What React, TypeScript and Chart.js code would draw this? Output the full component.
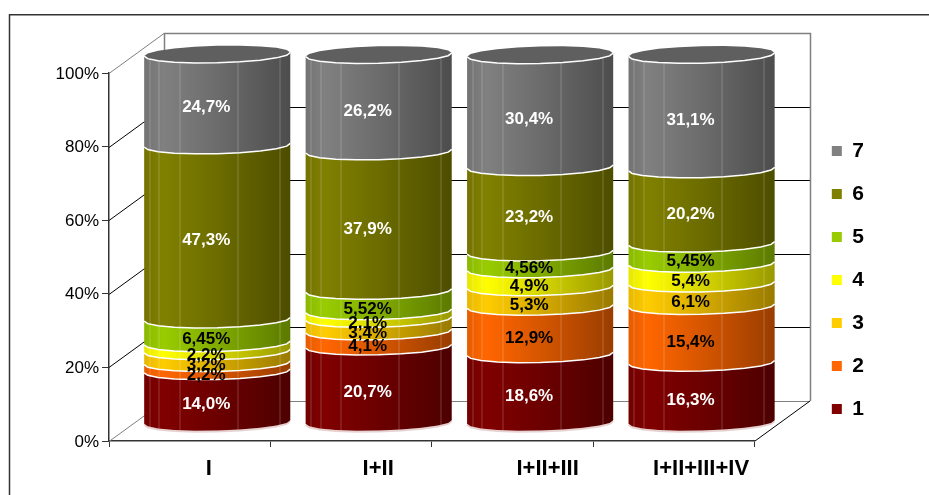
import React, { useEffect, useRef } from "react";
import { Chart, registerables } from "chart.js";

Chart.register(...registerables);

const categories = ["I", "I+II", "I+II+III", "I+II+III+IV"];
const series1 = [14.0, 20.7, 18.6, 16.3];
const series2 = [2.2, 4.1, 12.9, 15.4];
const series3 = [3.2, 3.4, 5.3, 6.1];
const series4 = [2.2, 2.1, 4.9, 5.4];
const series5 = [6.45, 5.52, 4.56, 5.45];
const series6 = [47.3, 37.9, 23.2, 20.2];
const series7 = [24.7, 26.2, 30.4, 31.1];
const labels1 = ["14,0%", "20,7%", "18,6%", "16,3%"];
const labels2 = ["2,2%", "4,1%", "12,9%", "15,4%"];
const labels3 = ["3,2%", "3,4%", "5,3%", "6,1%"];
const labels4 = ["2,2%", "2,1%", "4,9%", "5,4%"];
const labels5 = ["6,45%", "5,52%", "4,56%", "5,45%"];
const labels6 = ["47,3%", "37,9%", "23,2%", "20,2%"];
const labels7 = ["24,7%", "26,2%", "30,4%", "31,1%"];
const colors = ["#800000", "#FF6600", "#FFCC00", "#FFFF00", "#99CC00", "#808000", "#808080"];
const labelColors = ["#fff", "#000", "#000", "#000", "#000", "#fff", "#fff"];

const FONT = '"Liberation Sans", Arial, sans-serif';
const DX = 27.5; // depth of the 3D box, half way for the cylinders
const DY = -18.5;
const WALL_X = 55;
const WALL_Y = -40;
const RY = 8.5;
const TILT = 1.8;
const FACETS = [0.034, 0.1, 0.24, 0.637, 0.925];
const LABEL_SHIFT = [-8, 0, 8, 0];

function shade(hex: string, f: number) {
  const n = parseInt(hex.slice(1), 16);
  const c = [(n >> 16) & 255, (n >> 8) & 255, n & 255].map((v) => Math.round(v * f));
  return `rgb(${c[0]},${c[1]},${c[2]})`;
}

// Faceted half ellipse, left to right; side = 1 front, -1 back.
function arcPoints(cx: number, cy: number, rx: number, side: number) {
  const pts: [number, number][] = [];
  const steps = 10;
  for (let i = 0; i <= steps; i++) {
    const a = Math.PI - (Math.PI * i) / steps;
    const x = cx + rx * Math.cos(a);
    const y = cy + side * RY * Math.sin(a) - Math.cos(a) * TILT;
    pts.push([x, y]);
  }
  return pts;
}

const cylinderPlugin = {
  id: "cylinder",
  beforeDraw(chart: any) {
    const { ctx, width, height } = chart;
    ctx.save();
    ctx.fillStyle = "#fff";
    ctx.fillRect(0, 0, width, height);
    ctx.strokeStyle = "#333";
    ctx.lineWidth = 1.5;
    ctx.beginPath();
    ctx.moveTo(9.5, height);
    ctx.lineTo(9.5, 14.75);
    ctx.lineTo(width, 14.75);
    ctx.stroke();
    ctx.restore();
  },
  beforeDatasetsDraw(chart: any) {
    const { ctx, scales } = chart;
    const y = scales.y;
    const x = scales.x;
    const left = Math.round(x.left);
    const right = Math.round(x.right);
    ctx.save();
    for (const v of [0, 20, 40, 60, 80, 100]) {
      const py = Math.round(y.getPixelForValue(v)) + 0.5;
      ctx.strokeStyle = v === 100 || v === 0 ? "#808080" : "#000";
      ctx.lineWidth = 1;
      ctx.beginPath();
      ctx.moveTo(left, py);
      ctx.lineTo(left + WALL_X, py + WALL_Y);
      if (v !== 100) ctx.lineTo(right + WALL_X, py + WALL_Y);
      ctx.stroke();
    }
    const top = Math.round(y.getPixelForValue(100)) + WALL_Y;
    const bottom = Math.round(y.getPixelForValue(0)) + WALL_Y;
    ctx.strokeStyle = "#808080";
    ctx.lineWidth = 1.5;
    ctx.beginPath();
    ctx.moveTo(left + WALL_X + 0.5, bottom);
    ctx.lineTo(left + WALL_X + 0.5, top + 0.5);
    ctx.lineTo(right + WALL_X + 0.5, top + 0.5);
    ctx.lineTo(right + WALL_X + 0.5, bottom);
    ctx.stroke();
    ctx.strokeStyle = "#000";
    ctx.lineWidth = 1;
    ctx.beginPath();
    ctx.moveTo(right, bottom - WALL_Y);
    ctx.lineTo(right + WALL_X, bottom);
    ctx.stroke();
    ctx.restore();
  },
  beforeDatasetDraw(chart: any, args: any) {
    const { ctx } = chart;
    const meta = args.meta;
    const color = colors[args.index];
    const isTop = args.index === colors.length - 1;
    const isBottom = args.index === 0;
    ctx.save();
    ctx.translate(DX, DY);
    meta.data.forEach((bar: any) => {
      const rx = bar.width / 2;
      const l = bar.x - rx;
      const top = arcPoints(bar.x, bar.y, rx, 1);
      const bot = arcPoints(bar.x, bar.base, rx, 1);
      const g = ctx.createLinearGradient(l, 0, l + bar.width, 0);
      g.addColorStop(0, shade(color, 0.9));
      g.addColorStop(0.13, shade(color, 1));
      g.addColorStop(0.5, shade(color, 0.84));
      g.addColorStop(1, shade(color, 0.6));
      if (isBottom) {
        ctx.strokeStyle = "rgba(128,0,0,0.18)";
        ctx.lineWidth = 2;
        ctx.beginPath();
        bot.forEach((p, i) => (i ? ctx.lineTo(p[0], p[1] + 1) : ctx.moveTo(p[0], p[1] + 1)));
        ctx.stroke();
      }
      ctx.fillStyle = g;
      ctx.beginPath();
      top.forEach((p, i) => (i ? ctx.lineTo(p[0], p[1]) : ctx.moveTo(p[0], p[1])));
      [...bot].reverse().forEach((p) => ctx.lineTo(p[0], p[1]));
      ctx.closePath();
      ctx.fill();
      // facet highlights
      ctx.strokeStyle = "rgba(255,255,255,0.22)";
      ctx.lineWidth = 1;
      FACETS.forEach((f) => {
        const fx = Math.round(l + f * bar.width) + 0.5;
        const c = (fx - bar.x) / rx;
        const off = RY * Math.sqrt(Math.max(0, 1 - c * c)) - c * TILT;
        ctx.beginPath();
        ctx.moveTo(fx, bar.y + off);
        ctx.lineTo(fx, bar.base + off);
        ctx.stroke();
      });
      if (isTop) {
        const back = arcPoints(bar.x, bar.y, rx, -1);
        ctx.fillStyle = "#5f5f5f";
        ctx.beginPath();
        top.forEach((p, i) => (i ? ctx.lineTo(p[0], p[1]) : ctx.moveTo(p[0], p[1])));
        [...back].reverse().forEach((p) => ctx.lineTo(p[0], p[1]));
        ctx.closePath();
        ctx.fill();
      }
      ctx.strokeStyle = "#fff";
      ctx.lineWidth = 1.5;
      ctx.beginPath();
      top.forEach((p, i) => (i ? ctx.lineTo(p[0], p[1]) : ctx.moveTo(p[0], p[1])));
      ctx.stroke();
    });
    ctx.restore();
    return false;
  },
  afterDatasetsDraw(chart: any) {
    const { ctx } = chart;
    ctx.save();
    ctx.translate(DX, DY);
    ctx.font = `bold 17px ${FONT}`;
    ctx.textAlign = "center";
    ctx.textBaseline = "middle";
    for (let d = chart.data.datasets.length - 1; d >= 0; d--) {
      const ds = chart.data.datasets[d];
      chart.getDatasetMeta(d).data.forEach((bar: any, i: number) => {
        ctx.fillStyle = labelColors[d];
        ctx.fillText(ds.pointLabels[i], bar.x - 11, (bar.y + bar.base) / 2 + 8);
      });
    }
    ctx.restore();
  },
  afterLayout(chart: any) {
    chart.scales.x.getLabelItems().forEach((it: any, i: number) => {
      if (!it._shifted) {
        it.options.translation[0] += LABEL_SHIFT[i] ?? 0;
        it._shifted = true;
      }
    });
    chart.scales.y.getLabelItems().forEach((it: any) => {
      if (!it._shifted) {
        it.options.translation[1] += 1;
        it._shifted = true;
      }
    });
  },
};

export default function App() {
  const ref = useRef<HTMLCanvasElement>(null);
  useEffect(() => {
    const all = [series1, series2, series3, series4, series5, series6, series7];
    const lab = [labels1, labels2, labels3, labels4, labels5, labels6, labels7];
    const chart = new Chart(ref.current!, {
      type: "bar",
      data: {
        labels: categories,
        datasets: all.map((data, i) => ({
          label: String(i + 1),
          data,
          pointLabels: lab[i],
          backgroundColor: colors[i],
          borderWidth: 0,
          categoryPercentage: 1,
          barPercentage: 0.905,
        })) as any,
      },
      options: {
        responsive: false,
        animation: false,
        layout: { padding: { left: 0, top: 73, bottom: 8, right: 55 } },
        plugins: {
          tooltip: { enabled: false },
          title: { display: false },
          legend: {
            position: "right",
            reverse: true,
            labels: {
              boxWidth: 10,
              boxHeight: 10,
              padding: 22,
              color: "#000",
              font: { family: FONT, size: 21, weight: "bold" },
            },
          },
        },
        scales: {
          x: {
            stacked: true,
            afterFit(s: any) {
              s.height = 46;
            },
            border: { color: "#333", width: 1.5 },
            grid: { drawOnChartArea: false, tickLength: 6, tickColor: "#333", tickWidth: 1 },
            ticks: {
              padding: 9,
              labelOffset: 27,
              maxRotation: 0,
              color: "#000",
              font: { family: FONT, size: 22, weight: "bold" },
            },
          },
          y: {
            stacked: true,
            min: 0,
            max: 100,
            afterFit(s: any) {
              s.width = 109;
            },
            border: { color: "#333", width: 1.5 },
            grid: { drawOnChartArea: false, tickLength: 7, tickColor: "#333", tickWidth: 1 },
            ticks: {
              stepSize: 20,
              padding: 3,
              color: "#000",
              font: { family: FONT, size: 17 },
              callback: (v: any) => `${v}%`,
            },
          },
          yR: {
            axis: "y",
            position: "right",
            min: 0,
            max: 100,
            afterFit(s: any) {
              s.width = 55;
            },
            border: { display: false },
            grid: { display: false },
            ticks: { display: false },
          },
        },
      } as any,
      plugins: [cylinderPlugin as any],
    });
    return () => chart.destroy();
  }, []);
  return (
    <canvas
      ref={ref}
      width={929}
      height={495}
      style={{ position: "absolute", left: 0, top: 0, display: "block" }}
    />
  );
}
